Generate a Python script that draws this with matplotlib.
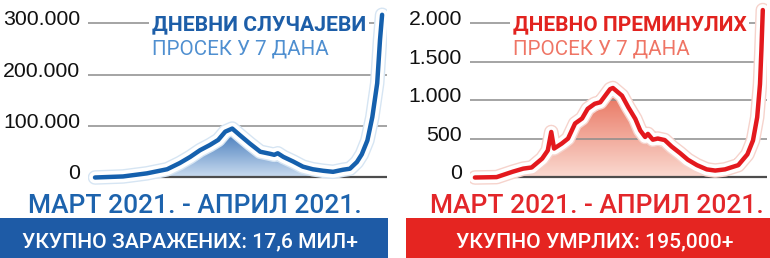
import numpy as np
import matplotlib
matplotlib.use("Agg")
import matplotlib.pyplot as plt
import matplotlib.patheffects as pe
from matplotlib.patches import Polygon, Rectangle
from matplotlib.colors import LinearSegmentedColormap
from matplotlib import transforms

# dani od pocetka (mart 2020.) i dnevni prosek u 7 dana
dani_sluc = [0, 40, 74, 103, 121, 136, 150, 164, 176, 186, 196, 207, 221, 236, 250,
             256, 261, 269, 283, 297, 311, 326, 340, 354, 364, 374, 381, 389, 396, 403, 407, 410]
sluc = [0, 2000, 8000, 16000, 28000, 40000, 53000, 63000, 73000, 89000, 95000, 82000,
        66000, 50000, 46000, 44000, 47000, 40000, 31000, 21000, 16000, 13000, 11000,
        15000, 17000, 30000, 45000, 72000, 117000, 183000, 267000, 316000]

dani_prem = [0, 31, 54, 69, 81, 96, 104, 109, 113, 124, 133, 143, 153, 161, 171, 179, 186,
             193, 197, 210, 219, 229, 236, 243, 247, 254, 261, 271, 281, 293, 304, 317, 331,
             343, 357, 369, 376, 389, 397, 403, 407, 409, 411]
prem = [0, 5, 75, 115, 130, 245, 350, 590, 375, 440, 505, 700, 765, 890, 955, 975, 1060,
        1145, 1160, 1060, 910, 760, 610, 525, 565, 490, 505, 485, 400, 315, 230, 160, 105,
        90, 105, 140, 160, 300, 480, 780, 1210, 1650, 2170]

ticks_sluc = [0, 100000, 200000, 300000]
ticks_prem = [0, 500, 1000, 1500, 2000]
lab_sluc = ["0", "100.000", "200.000", "300.000"]
lab_prem = ["0", "500", "1.000", "1.500", "2.000"]

W, H = 770, 258

def fx(x):
    return x / W

def fy(y):
    return 1 - y / H


def panel(ax, dani, vrednosti, ticks, labels, ylim, kraj_fill, boja, c_top, c_bot, glow):
    ax.set_xlim(-10, 417)
    ax.set_ylim(*ylim)
    ax.axis("off")
    # gradijent ispod krive
    d = np.array(dani, dtype=float)
    v = np.array(vrednosti, dtype=float)
    m = d <= kraj_fill
    verts = np.column_stack([np.r_[d[m], d[m][-1], d[m][0]], np.r_[v[m], 0, 0]])
    poly = Polygon(verts, closed=True, facecolor="none", edgecolor="none")
    ax.add_patch(poly)
    cmap = LinearSegmentedColormap.from_list("g", [c_bot, c_top])
    grad = np.linspace(0, 1, 100).reshape(-1, 1)
    im = ax.imshow(grad, extent=[d[0], kraj_fill, 0, v[m].max()], origin="lower",
                   aspect="auto", cmap=cmap, zorder=1)
    im.set_clip_path(poly)
    ax.set_xlim(-10, 417)
    ax.set_ylim(*ylim)
    for t in ticks[1:]:
        ax.axhline(t, color="#8c8c8c", lw=1.1, zorder=2)
    ax.axhline(0, color="#4d4d4d", lw=1.6, zorder=2)
    ax.plot(dani, vrednosti, color=boja, lw=3.2, zorder=3, solid_capstyle="round",
            path_effects=[pe.Stroke(linewidth=10.5, foreground=glow),
                          pe.Stroke(linewidth=8.5, foreground="white"), pe.Normal()])
    off = transforms.offset_copy(transforms.blended_transform_factory(ax.transAxes, ax.transData),
                                 fig=ax.figure, x=0, y=-2, units="dots")
    for t, l in zip(ticks, labels):
        ax.text(-0.027, t, l, transform=off, ha="right", va="baseline",
                fontsize=15.3, family="Liberation Sans", color="#111111")


fig = plt.figure(figsize=(7.7, 2.58), dpi=100, facecolor="white")

# levi panel - slucajevi
ax1 = fig.add_axes([fx(88), fy(190), fx(387 - 88), 190 / H])
panel(ax1, dani_sluc, sluc, ticks_sluc, lab_sluc, (-24300, 344700), 345,
      "#1560ad", "#3b74b8", "#c9dbef", "#d6e5f3")

# desni panel - preminuli
ax2 = fig.add_axes([fx(470), fy(190), fx(767 - 470), 190 / H])
panel(ax2, dani_prem, prem, ticks_prem, lab_prem, (-162, 2300), 345,
      "#e3191e", "#e86e58", "#fad9d0", "#f6d3cc")
ax2.set_xlim(-7, 417)

# naslovi
fig.text(fx(152), fy(30), "ДНЕВНИ СЛУЧАЈЕВИ", family="Roboto", weight="bold", fontsize=15.2,
         color="#1d5ea8", ha="left", va="baseline",
         bbox=dict(facecolor="white", edgecolor="none", pad=2), zorder=5)
fig.text(fx(152), fy(55), "ПРОСЕК У 7 ДАНА", family="Roboto", weight="normal", fontsize=14.8,
         color="#4f8fd0", ha="left", va="baseline")
fig.text(fx(513), fy(30), "ДНЕВНО ПРЕМИНУЛИХ", family="Roboto", weight="bold", fontsize=15.0,
         color="#e2231f", ha="left", va="baseline",
         bbox=dict(facecolor="white", edgecolor="none", pad=2), zorder=5)
fig.text(fx(513), fy(55), "ПРОСЕК У 7 ДАНА", family="Roboto", weight="normal", fontsize=14.8,
         color="#ef7565", ha="left", va="baseline")

# period
fig.text(fx(28), fy(213), "МАРТ 2021. - АПРИЛ 2021.", family="Roboto", weight="medium",
         fontsize=19.0, color="#1d63ad", ha="left", va="baseline")
fig.text(fx(430), fy(213), "МАРТ 2021. - АПРИЛ 2021.", family="Roboto", weight="medium",
         fontsize=19.0, color="#e3262a", ha="left", va="baseline")

# trake na dnu
fig.patches.append(Rectangle((0, 0), fx(388), 40 / H, transform=fig.transFigure,
                             facecolor="#1e5ba6", edgecolor="none"))
fig.patches.append(Rectangle((fx(406), 0), 1 - fx(406), 40 / H, transform=fig.transFigure,
                             facecolor="#e52521", edgecolor="none"))
fig.text(fx(190), fy(247), "УКУПНО ЗАРАЖЕНИХ: 17,6 МИЛ+", family="Roboto", weight="medium",
         fontsize=15.2, color="white", ha="center", va="baseline")
fig.text(fx(595), fy(247), "УКУПНО УМРЛИХ: 195,000+", family="Roboto", weight="medium",
         fontsize=15.2, color="white", ha="center", va="baseline")

fig.savefig("out.png", dpi=100, facecolor="white")
